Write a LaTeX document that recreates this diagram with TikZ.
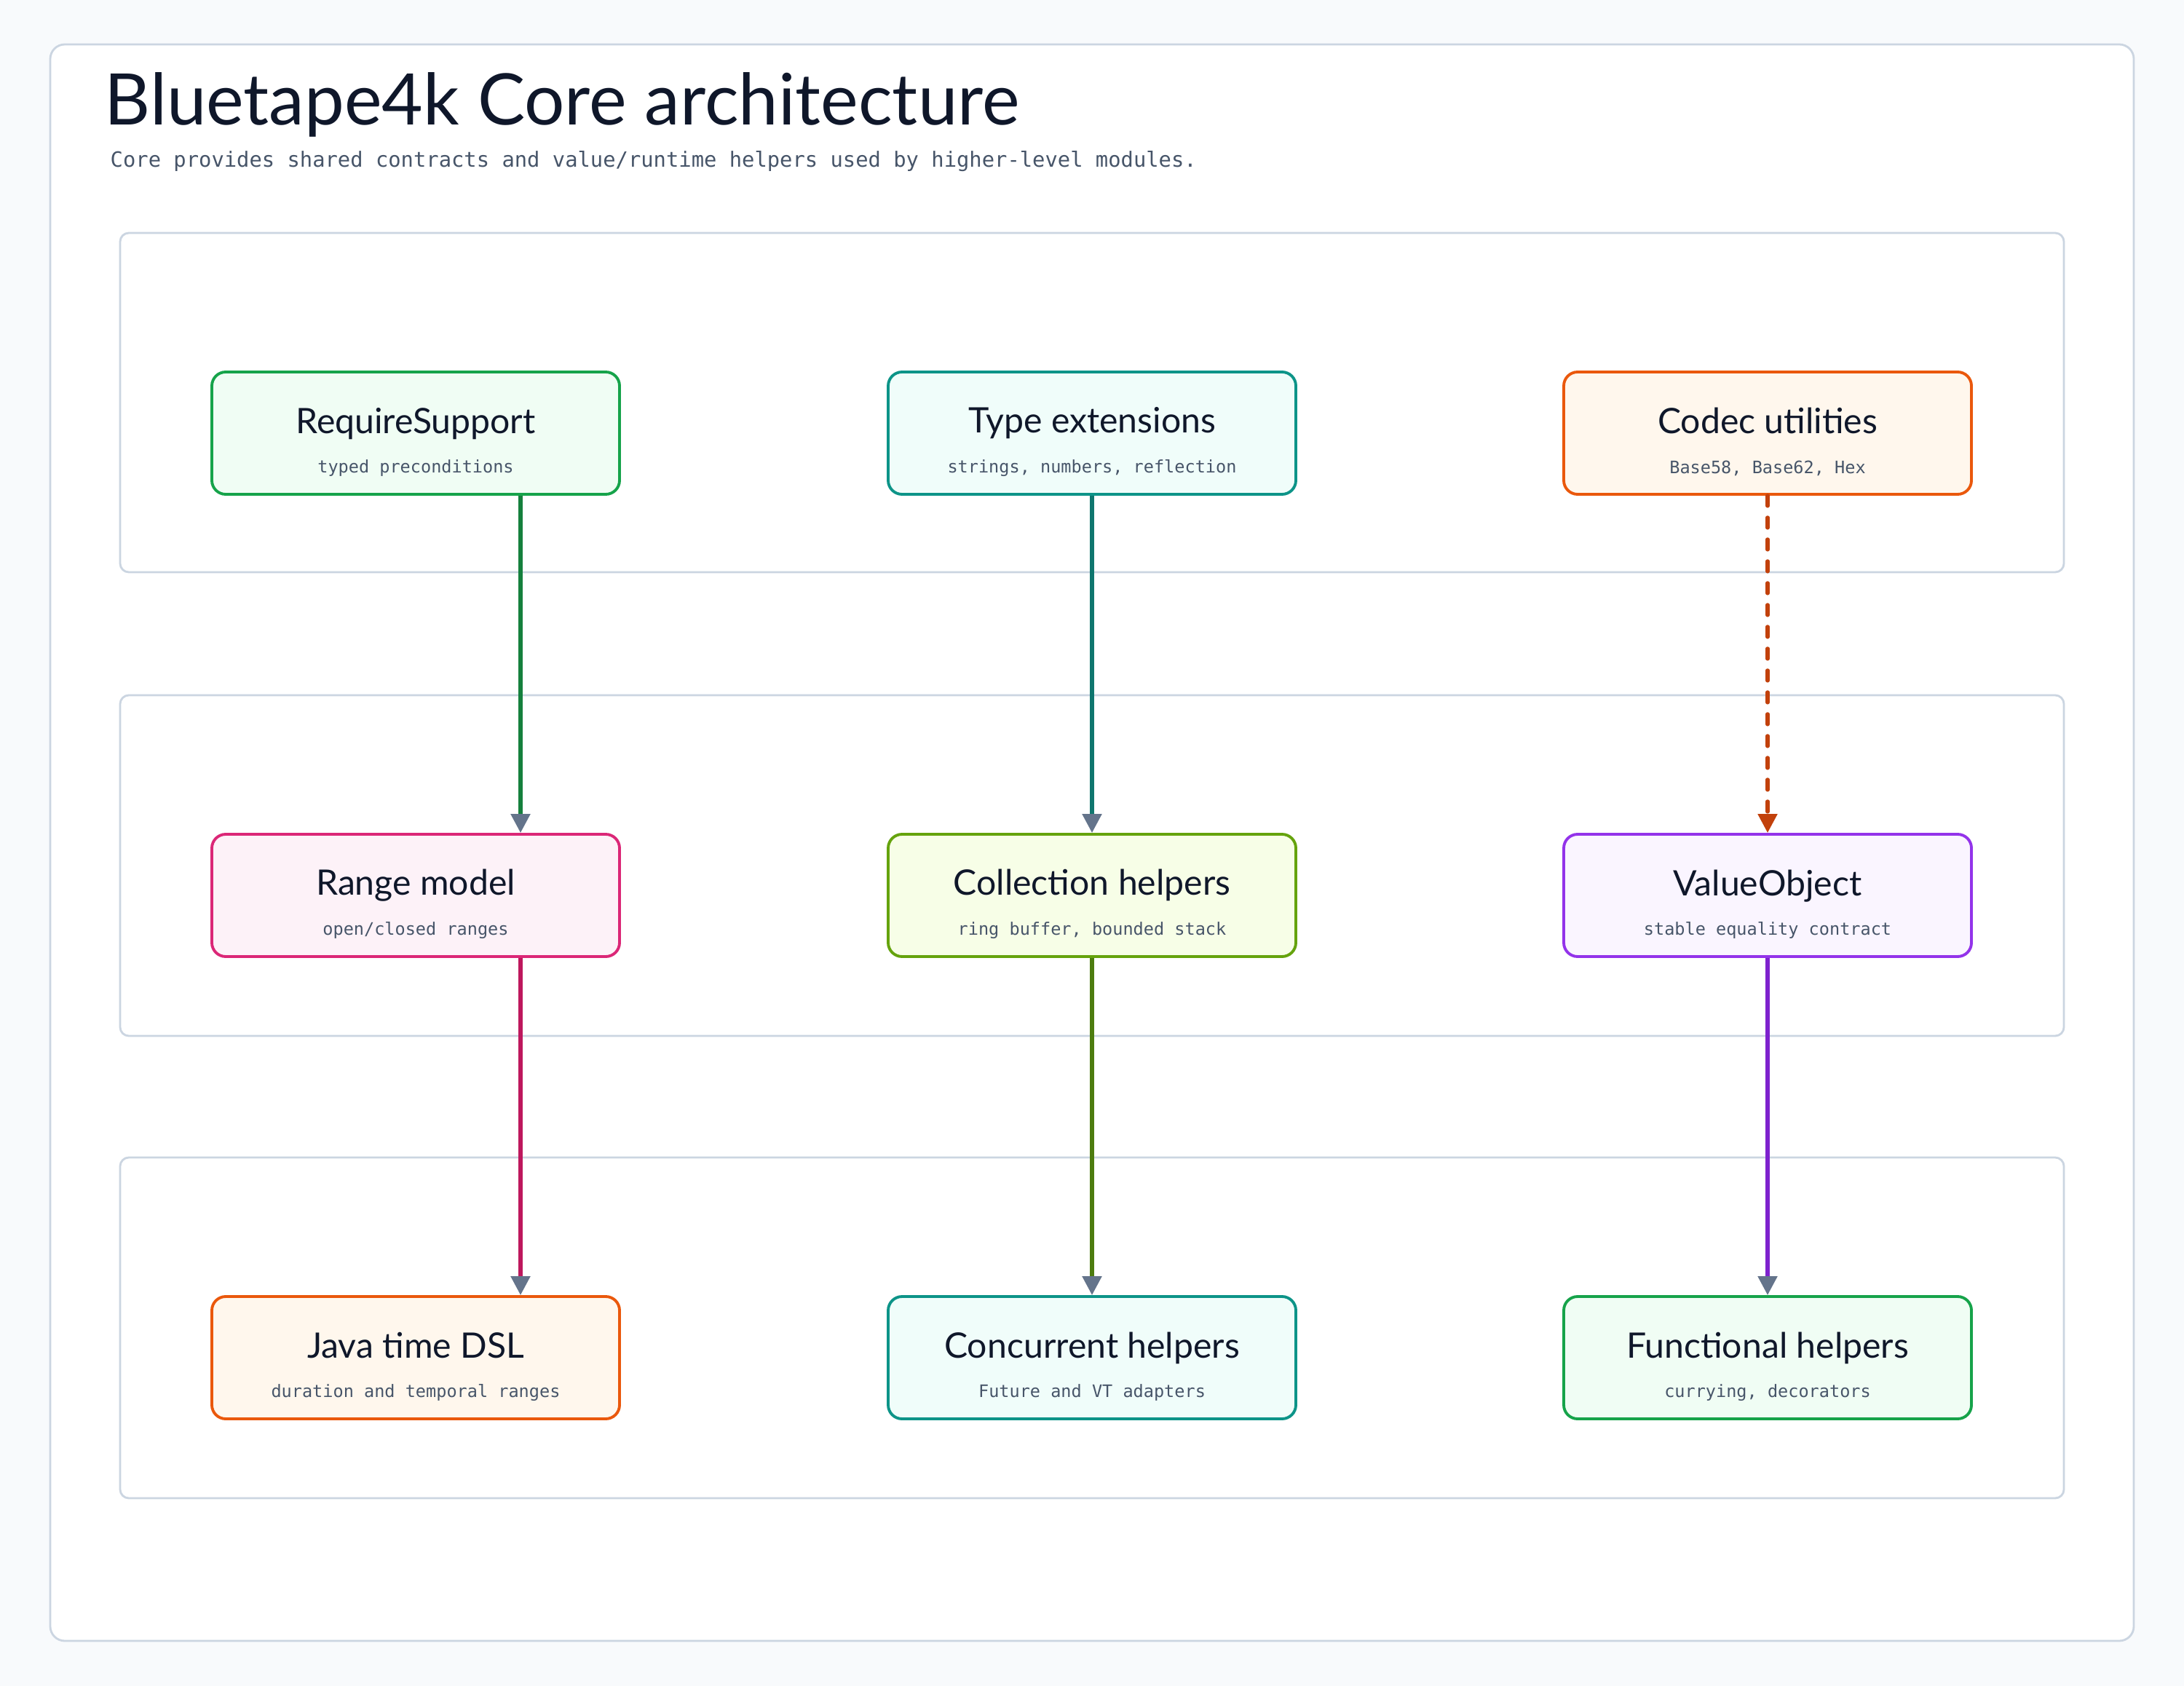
\documentclass[tikz,border=0pt]{standalone}
\usepackage{fontspec}
\setmainfont{Lato}
\newfontfamily\codefont{DejaVu Sans Mono}
\usetikzlibrary{arrows.meta, positioning}

\definecolor{pagebg}{HTML}{F8FAFC}
\definecolor{frameln}{HTML}{CBD5E1}
\definecolor{ink}{HTML}{0F172A}
\definecolor{muted}{HTML}{475569}
\definecolor{tipgray}{HTML}{64748B}
\definecolor{grnln}{HTML}{16A34A}  \definecolor{grnbg}{HTML}{F0FDF4}  \definecolor{grnedge}{HTML}{15803D}
\definecolor{tealln}{HTML}{0D9488} \definecolor{tealbg}{HTML}{F0FDFA} \definecolor{tealedge}{HTML}{0F766E}
\definecolor{orgln}{HTML}{EA580C}  \definecolor{orgbg}{HTML}{FFF7ED}  \definecolor{orgedge}{HTML}{C2410C}
\definecolor{pinkln}{HTML}{DB2777} \definecolor{pinkbg}{HTML}{FDF2F8} \definecolor{pinkedge}{HTML}{BE185D}
\definecolor{limeln}{HTML}{65A30D} \definecolor{limebg}{HTML}{F7FEE7} \definecolor{limeedge}{HTML}{4D7C0F}
\definecolor{purpln}{HTML}{9333EA} \definecolor{purpbg}{HTML}{FAF5FF} \definecolor{purpedge}{HTML}{7E22CE}

\newcommand{\modtext}[2]{\rule{0pt}{17pt}#1\\[0.2mm]{\codefont\fontsize{6.7}{8}\selectfont\color{muted}#2}}

\begin{document}
\begin{tikzpicture}[
    mod/.style   = {rounded corners=1.9mm, line width=1.1pt, minimum width=56mm,
                    minimum height=16.8mm, align=center, text=ink,
                    font=\fontsize{13.7}{15}\selectfont},
    grnmod/.style  = {mod, draw=grnln, fill=grnbg},
    tealmod/.style = {mod, draw=tealln, fill=tealbg},
    orgmod/.style  = {mod, draw=orgln, fill=orgbg},
    pinkmod/.style = {mod, draw=pinkln, fill=pinkbg},
    limemod/.style = {mod, draw=limeln, fill=limebg},
    purpmod/.style = {mod, draw=purpln, fill=purpbg},
    band/.style  = {draw=frameln, line width=0.8pt, rounded corners=1.2mm, fill=white},
    link/.style  = {line width=1.5pt, -{Triangle[length=2.6mm, width=2.6mm, color=tipgray]}},
    dlink/.style = {line width=1.5pt, dash pattern=on 1.4mm off 1.6mm, line cap=round,
                    -{Triangle[length=2.6mm, width=2.6mm, color=orgedge, line cap=butt]}}
  ]

  % --- page and card ---
  \fill[pagebg] (0,0) rectangle (30,-23.16);
  \useasboundingbox (0,0) rectangle (30,-23.16);
  \draw[band, rounded corners=2mm] (0.69,-0.61) rectangle (29.31,-22.54);

  % --- heading ---
  \node[anchor=base west, text=ink, font=\fontsize{27.8}{32}\selectfont, inner sep=0pt]
       (title) at (1.43,-1.72) {Bluetape4k Core architecture};
  \node[anchor=base west, text=muted, font=\codefont\fontsize{8.2}{10}\selectfont, inner sep=0pt]
       (subtitle) at (1.51,-2.30) {Core provides shared contracts and value/runtime helpers used by higher-level modules.};

  % --- row bands ---
  \draw[band] (1.65,-3.20) rectangle (28.35,-7.86);
  \draw[band] (1.65,-9.55) rectangle (28.35,-14.23);
  \draw[band] (1.65,-15.90) rectangle (28.35,-20.58);

  % --- top row ---
  \node[grnmod]  (req)   at (5.71,-5.95)  {\modtext{RequireSupport}{typed preconditions}};
  \node[tealmod] (types) at (15.00,-5.95) {\modtext{Type extensions}{strings, numbers, reflection}};
  \node[orgmod]  (codec) at (24.28,-5.95) {\modtext{Codec utilities}{Base58, Base62, Hex}};

  % --- middle row ---
  \node[pinkmod] (range) at (5.71,-12.30)  {\modtext{Range model}{open/closed ranges}};
  \node[limemod] (coll)  at (15.00,-12.30) {\modtext{Collection helpers}{ring buffer, bounded stack}};
  \node[purpmod] (vobj)  at (24.28,-12.30) {\modtext{ValueObject}{stable equality contract}};

  % --- bottom row ---
  \node[orgmod]  (jtime) at (5.71,-18.65)  {\modtext{Java time DSL}{duration and temporal ranges}};
  \node[tealmod] (conc)  at (15.00,-18.65) {\modtext{Concurrent helpers}{Future and VT adapters}};
  \node[grnmod]  (func)  at (24.28,-18.65) {\modtext{Functional helpers}{currying, decorators}};

  % --- dependencies ---
  \draw[link, grnedge]  ([xshift=1.44cm]req.south) -- ([xshift=1.44cm]range.north);
  \draw[link, pinkedge] ([xshift=1.44cm]range.south) -- ([xshift=1.44cm]jtime.north);
  \draw[link, tealedge] (types) -- (coll);
  \draw[link, limeedge] (coll) -- (conc);
  \draw[dlink, orgedge] (codec) -- (vobj);
  \draw[link, purpedge] (vobj) -- (func);

\end{tikzpicture}
\end{document}
